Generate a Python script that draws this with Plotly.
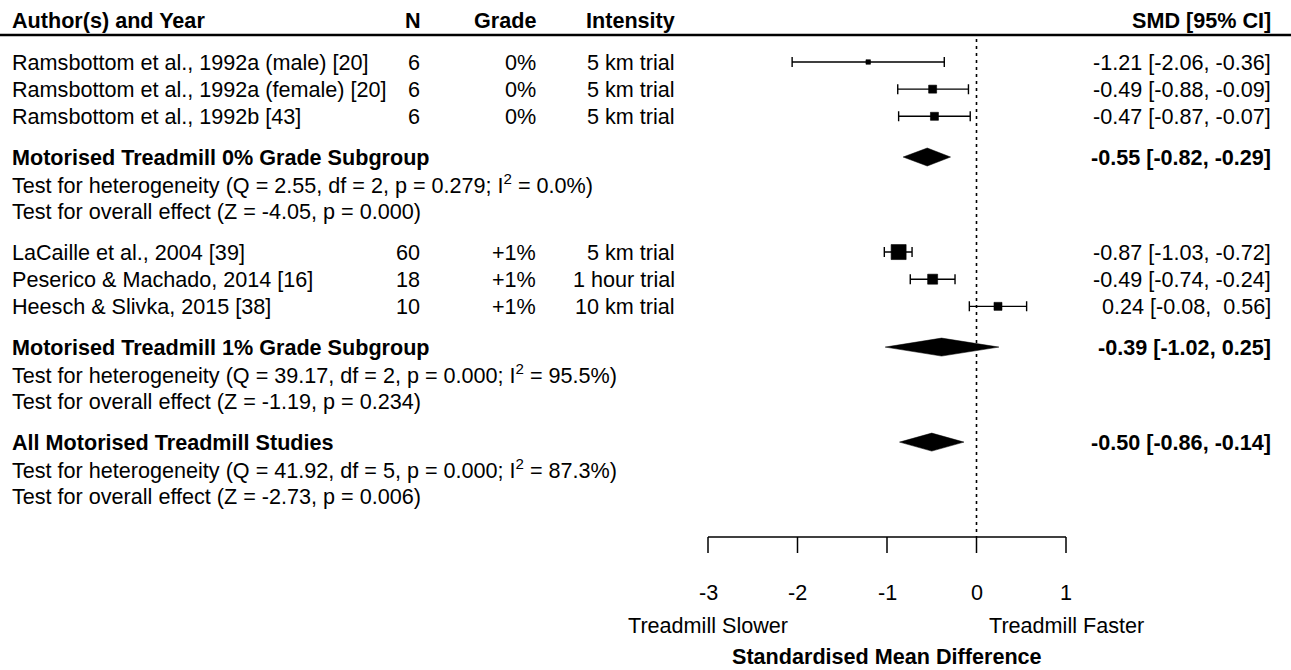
import plotly.graph_objects as go

# ---- study-level data ----
studies = [
    "Ramsbottom et al., 1992a (male) [20]",
    "Ramsbottom et al., 1992a (female) [20]",
    "Ramsbottom et al., 1992b [43]",
    "LaCaille et al., 2004 [39]",
    "Peserico & Machado, 2014 [16]",
    "Heesch & Slivka, 2015 [38]",
]
n_subjects = [6, 6, 6, 60, 18, 10]
grade = ["0%", "0%", "0%", "+1%", "+1%", "+1%"]
intensity = ["5 km trial", "5 km trial", "5 km trial", "5 km trial", "1 hour trial", "10 km trial"]
smd = [-1.21, -0.49, -0.47, -0.87, -0.49, 0.24]
ci_low = [-2.06, -0.88, -0.87, -1.03, -0.74, -0.08]
ci_high = [-0.36, -0.09, -0.07, -0.72, -0.24, 0.56]

# ---- pooled estimates ----
pooled_labels = [
    "Motorised Treadmill 0% Grade Subgroup",
    "Motorised Treadmill 1% Grade Subgroup",
    "All Motorised Treadmill Studies",
]
pooled_smd = [-0.55, -0.39, -0.50]
pooled_low = [-0.82, -1.02, -0.86]
pooled_high = [-0.29, 0.25, -0.14]
het_q = ["2.55", "39.17", "41.92"]
het_df = [2, 2, 5]
het_p = ["0.279", "0.000", "0.000"]
het_i2 = ["0.0", "95.5", "87.3"]
effect_z = ["-4.05", "-1.19", "-2.73"]
effect_p = ["0.000", "0.234", "0.006"]

axis_ticks = [-3, -2, -1, 0, 1]

# ---- layout constants (pixels) ----
W, H = 1291, 670
FONT = "Liberation Sans, Arial, Helvetica, sans-serif"
FS = 21.6
ROW0, STEP = 62, 27.15
study_slots = [0, 1, 2, 7, 8, 9]
pooled_slots = [3.5, 10.5, 14]
box_px = [4.5, 8, 8, 15, 10, 8]
HEADER_Y, RULE_Y = 20, 35
AXIS_Y, TICK_LEN = 537, 16
COL_AUTHOR, COL_N, COL_GRADE, COL_INT, COL_SMD = 10, 422, 538, 677, 1273

# x scale: -3 at 708 px, 1 at 1066 px
px_per_unit = (1066 - 708) / 4
x_min = -3 - 708 / px_per_unit
x_max = x_min + W / px_per_unit


def row_y(slot):
    return ROW0 + STEP * slot


def fmt_ci(est, lo, hi, pad):
    hs = f"{hi:5.2f}" if pad else f"{hi:.2f}"
    return f"{est:.2f} [{lo:.2f}, {hs}]".replace(" ", "\u00a0")


fig = go.Figure()
ann = []


def text(x_px, y, s, anchor="left", bold=False):
    ann.append(dict(
        x=x_px / W, xref="paper", y=y, yref="y", text=(f"<b>{s}</b>" if bold else s),
        xanchor=anchor, yanchor="middle", showarrow=False,
        font=dict(family=FONT, size=FS, color="black"),
    ))


# header
text(COL_AUTHOR, HEADER_Y, "Author(s) and Year", bold=True)
text(COL_N + 1, HEADER_Y, "N", "right", bold=True)
text(COL_GRADE, HEADER_Y, "Grade", "right", bold=True)
text(COL_INT, HEADER_Y, "Intensity", "right", bold=True)
text(COL_SMD, HEADER_Y, "SMD [95% CI]", "right", bold=True)

shapes = [dict(type="line", xref="paper", yref="y", x0=0, x1=1, y0=RULE_Y, y1=RULE_Y,
               line=dict(color="black", width=2.5))]

# study rows
ys = [row_y(s) for s in study_slots]
for i, y in enumerate(ys):
    text(COL_AUTHOR, y, studies[i])
    text(COL_N, y, str(n_subjects[i]), "right")
    text(COL_GRADE, y, grade[i], "right")
    text(COL_INT, y, intensity[i], "right")
    text(COL_SMD, y, fmt_ci(smd[i], ci_low[i], ci_high[i], True), "right")

fig.add_trace(go.Scatter(
    x=smd, y=ys, mode="markers",
    marker=dict(symbol="square", size=box_px, color="black", opacity=1,
                line=dict(width=0.6, color="black")),
    error_x=dict(type="data", symmetric=False,
                 array=[h - e for h, e in zip(ci_high, smd)],
                 arrayminus=[e - l for e, l in zip(smd, ci_low)],
                 color="black", thickness=1.4, width=5),
    showlegend=False, hoverinfo="skip",
))

# pooled rows with diamonds
DIAMOND_HALF = 9
for k, slot in enumerate(pooled_slots):
    y = row_y(slot)
    text(COL_AUTHOR, y, pooled_labels[k], bold=True)
    text(COL_SMD, y, fmt_ci(pooled_smd[k], pooled_low[k], pooled_high[k], False), "right", bold=True)
    text(COL_AUTHOR, row_y(slot + 1),
         f"Test for heterogeneity (Q = {het_q[k]}, df = {het_df[k]}, p = {het_p[k]}; "
         f"I<sup>2</sup> = {het_i2[k]}%)")
    text(COL_AUTHOR, row_y(slot + 2),
         f"Test for overall effect (Z = {effect_z[k]}, p = {effect_p[k]})")
    fig.add_trace(go.Scatter(
        x=[pooled_low[k], pooled_smd[k], pooled_high[k], pooled_smd[k], pooled_low[k]],
        y=[y, y - DIAMOND_HALF, y, y + DIAMOND_HALF, y],
        mode="lines", fill="toself", fillcolor="black",
        line=dict(color="black", width=0.5),
        showlegend=False, hoverinfo="skip",
    ))

# reference line at zero
shapes.append(dict(type="line", xref="x", yref="y", x0=0, x1=0, y0=RULE_Y + 4, y1=AXIS_Y,
                   line=dict(color="black", width=1.6, dash="3px,4px")))

# bottom axis
shapes.append(dict(type="line", xref="x", yref="y", x0=axis_ticks[0], x1=axis_ticks[-1],
                   y0=AXIS_Y, y1=AXIS_Y, line=dict(color="black", width=1.5)))
for t in axis_ticks:
    shapes.append(dict(type="line", xref="x", yref="y", x0=t, x1=t, y0=AXIS_Y, y1=AXIS_Y + TICK_LEN,
                       line=dict(color="black", width=1.5)))
    ann.append(dict(x=t, xref="x", y=592, yref="y", text=f"{t}", showarrow=False,
                    xanchor="center", yanchor="middle",
                    font=dict(family=FONT, size=FS, color="black")))

for lab, xv in [("Treadmill Slower", axis_ticks[0]), ("Treadmill Faster", axis_ticks[-1])]:
    ann.append(dict(x=xv, xref="x", y=625, yref="y", text=lab, showarrow=False,
                    xanchor="center", yanchor="middle",
                    font=dict(family=FONT, size=FS, color="black")))
ann.append(dict(x=(axis_ticks[0] + axis_ticks[-1]) / 2, xref="x", y=656, yref="y",
                text="<b>Standardised Mean Difference</b>", showarrow=False,
                xanchor="center", yanchor="middle",
                font=dict(family=FONT, size=FS, color="black")))

fig.update_layout(
    width=W, height=H, margin=dict(l=0, r=0, t=0, b=0),
    paper_bgcolor="white", plot_bgcolor="white",
    xaxis=dict(range=[x_min, x_max], visible=False, fixedrange=True),
    yaxis=dict(range=[H, 0], visible=False, fixedrange=True),
    annotations=ann, shapes=shapes, showlegend=False,
)

fig.write_html("out.html", config={"displayModeBar": False})
